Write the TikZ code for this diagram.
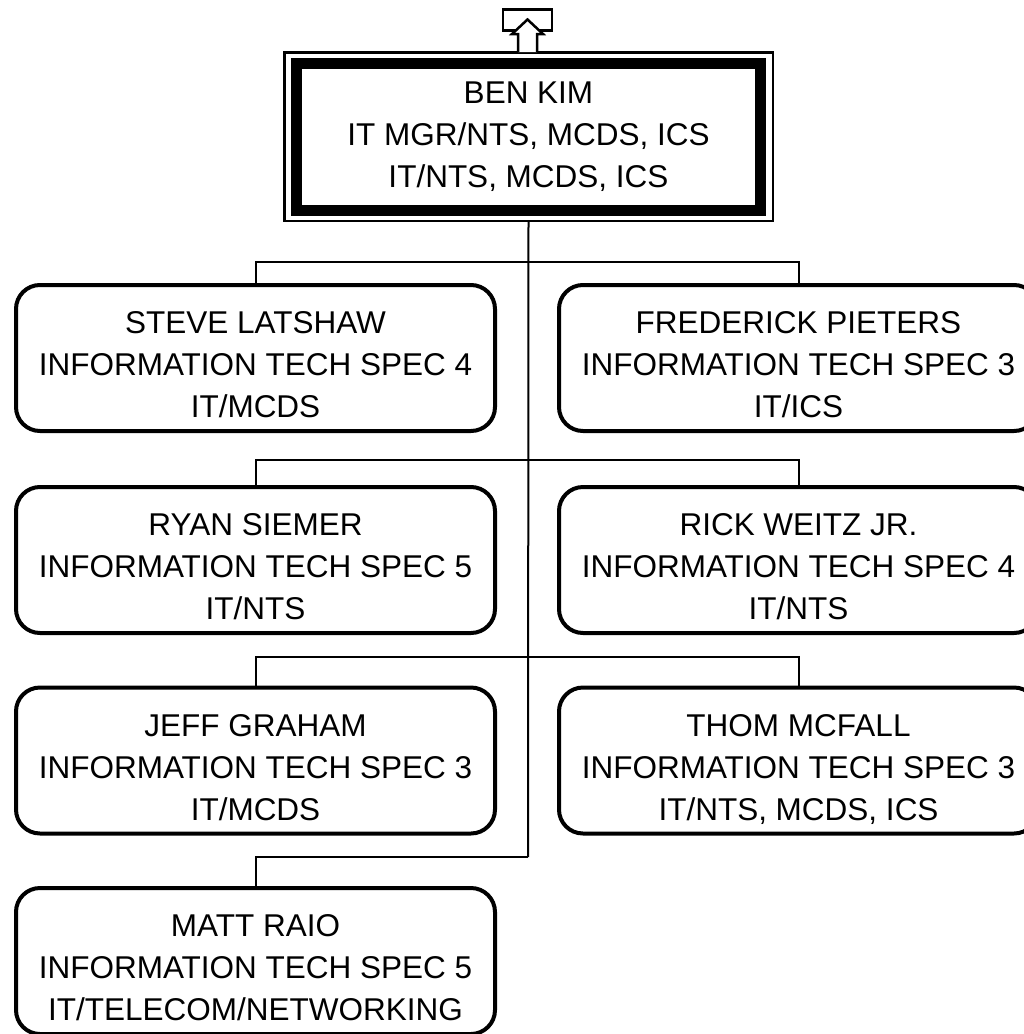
\documentclass[tikz,border=0pt]{standalone}
\usepackage{fontspec}
\setmainfont{Liberation Sans}
\usetikzlibrary{calc}
\newcommand{\emptxt}[3]{\rule{0pt}{42pt}#1\\#2\\#3\rule[-7pt]{0pt}{7pt}}
\begin{document}
\begin{tikzpicture}[x=1pt,y=-1pt,
  emp/.style={draw, line width=4pt, rounded corners=24pt, minimum width=479pt,
    minimum height=146pt, inner sep=0pt, outer sep=0pt, align=center,
    font=\fontsize{31.5}{42}\selectfont},
  conn/.style={line width=2pt},
  icon/.style={line width=2.5pt, line join=miter}]
\useasboundingbox (0,0) rectangle (1024,1034);
\clip (0,0) rectangle (1024,1034);

% top box
\node[draw, line width=2.5pt, minimum width=488.5pt, minimum height=168.5pt,
  inner sep=0pt, outer sep=0pt, align=center,
  font=\fontsize{31.5}{42}\selectfont] (ben) at (528.5,136.5)
  {BEN KIM\\IT MGR/NTS, MCDS, ICS\\IT/NTS, MCDS, ICS};
\draw[line width=11pt] ($(ben.north west)+(12.25,10.75)$) rectangle ($(ben.south east)+(-12.25,-10.75)$);

% icon above top box
\draw[icon] (503,9.5) rectangle (552,30.5);
\draw[icon, fill=white] (518,52) -- (518,34) -- (512,34) -- (527.5,19.5) -- (543,34) -- (537,34) -- (537,52);

% employees
\node[emp] (s1) at (255.5,358) {\emptxt{STEVE LATSHAW}{INFORMATION TECH SPEC 4}{IT/MCDS}};
\node[emp] (f1) at (798.5,358) {\emptxt{FREDERICK PIETERS}{INFORMATION TECH SPEC 3}{IT/ICS}};
\node[emp] (s2) at (255.5,560) {\emptxt{RYAN SIEMER}{INFORMATION TECH SPEC 5}{IT/NTS}};
\node[emp] (f2) at (798.5,560) {\emptxt{RICK WEITZ JR.}{INFORMATION TECH SPEC 4}{IT/NTS}};
\node[emp] (s3) at (255.5,760.5) {\emptxt{JEFF GRAHAM}{INFORMATION TECH SPEC 3}{IT/MCDS}};
\node[emp] (f3) at (798.5,760.5) {\emptxt{THOM MCFALL}{INFORMATION TECH SPEC 3}{IT/NTS, MCDS, ICS}};
\node[emp] (s4) at (255.5,961) {\emptxt{MATT RAIO}{INFORMATION TECH SPEC 5}{IT/TELECOM/NETWORKING}};

% connectors
\coordinate (j1) at (528,262);
\coordinate (j2) at (528,460);
\coordinate (j3) at (528,657);
\coordinate (j4) at (528,857);
\draw[conn] (ben.south) -- (j4);
\draw[conn] (s1.north) |- (j1) -| (f1.north);
\draw[conn] (s2.north) |- (j2) -| (f2.north);
\draw[conn] (s3.north) |- (j3) -| (f3.north);
\draw[conn] (s4.north) |- (j4);
\end{tikzpicture}
\end{document}
